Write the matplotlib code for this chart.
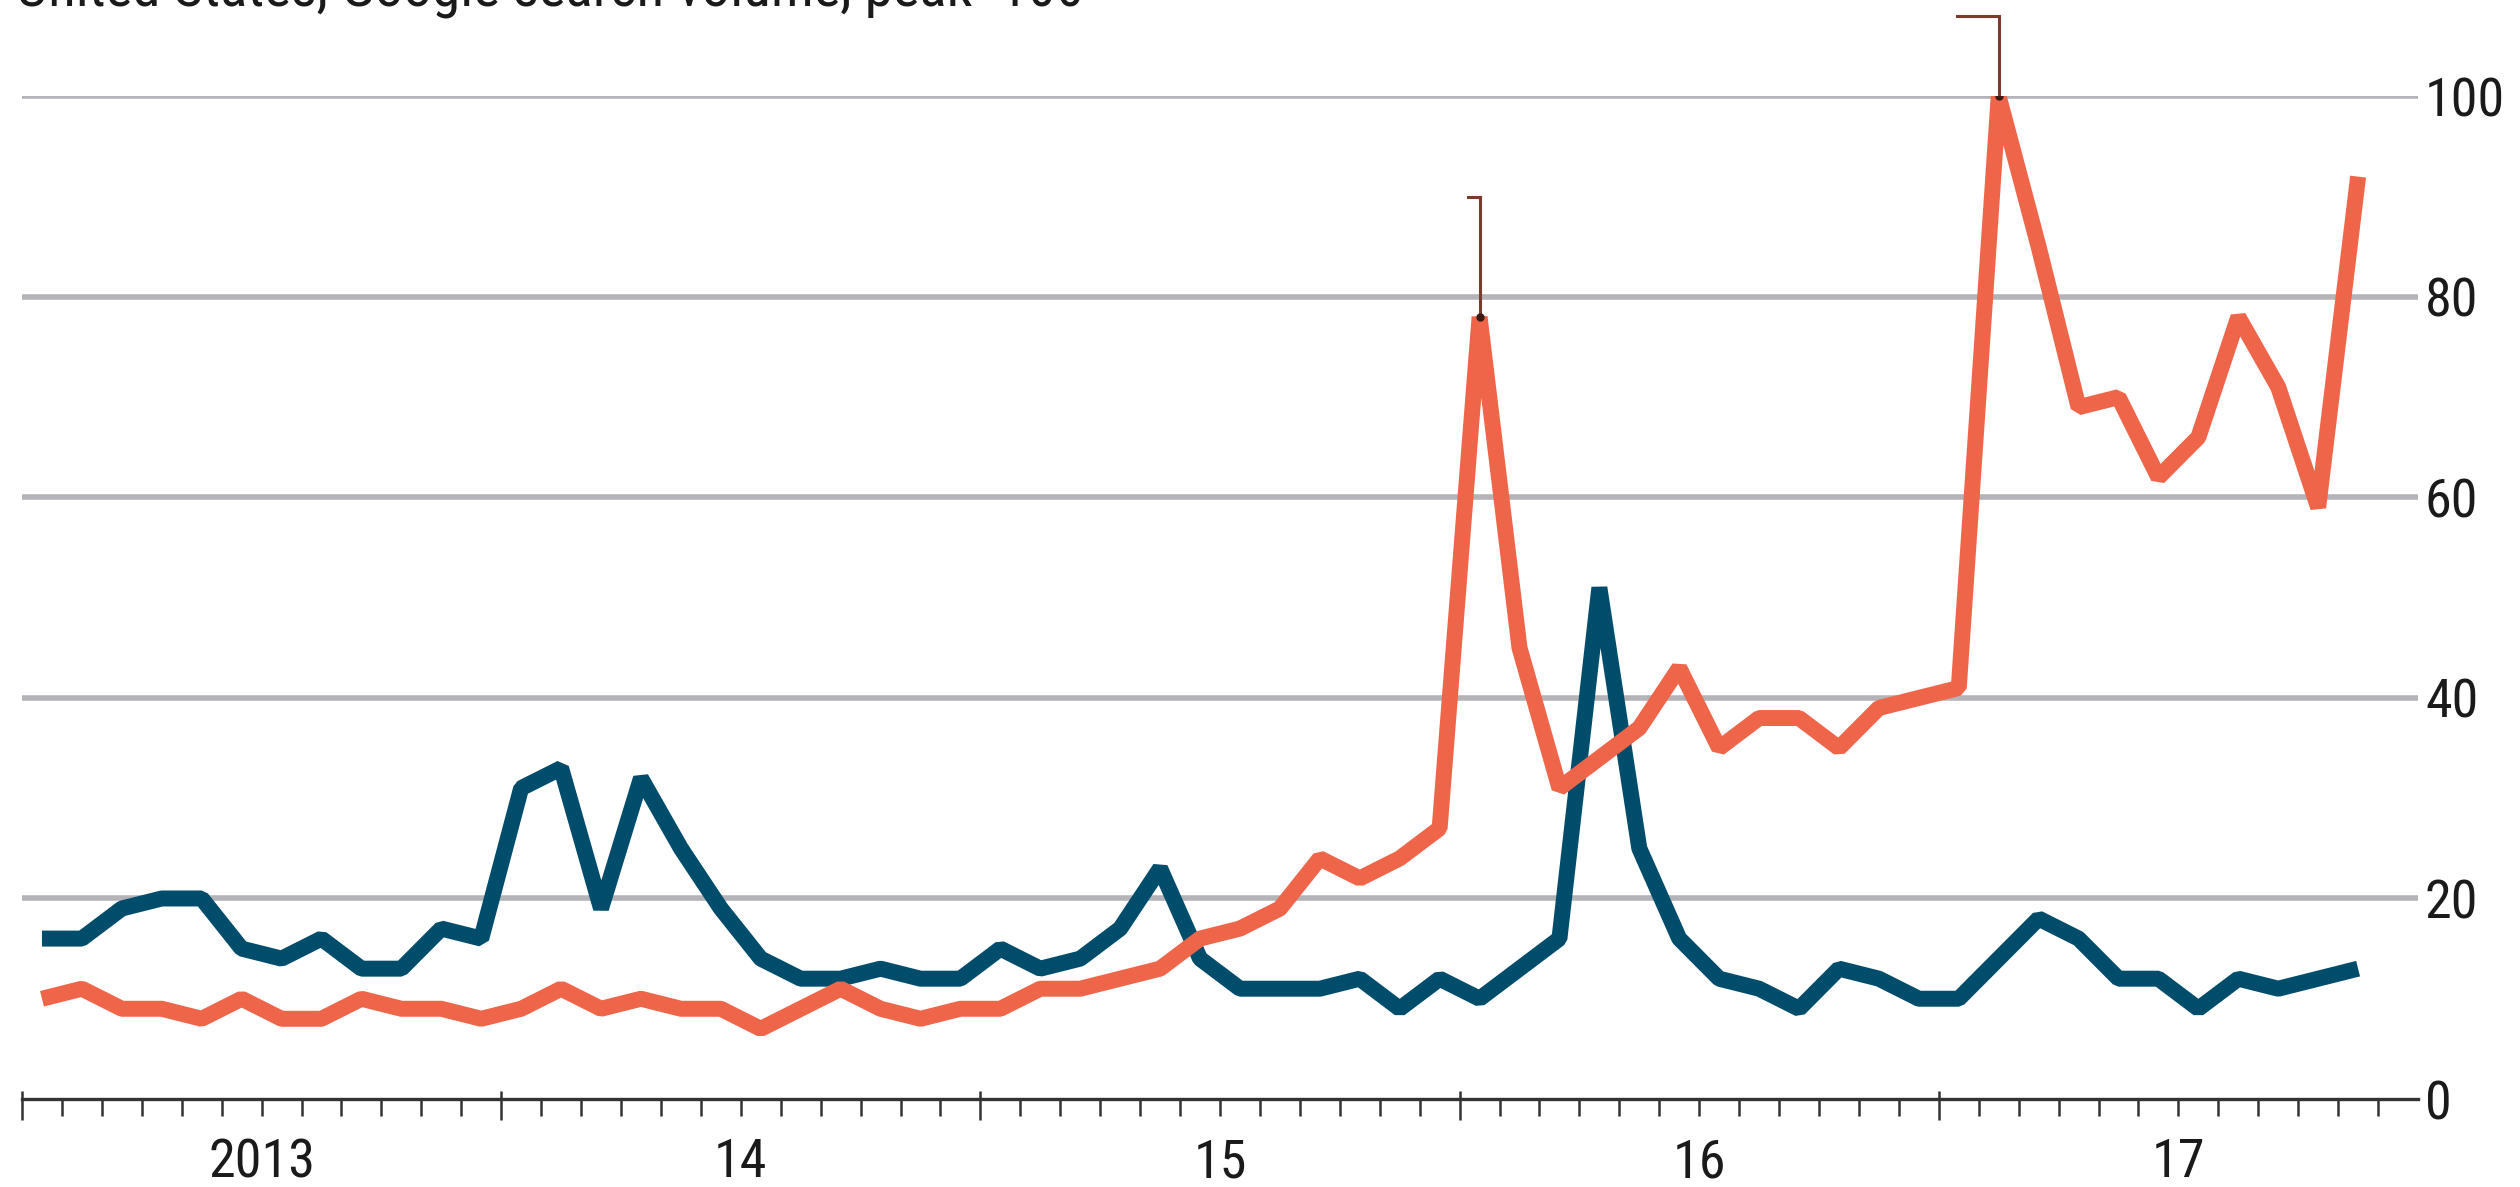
import matplotlib
matplotlib.use("Agg")
import matplotlib.pyplot as plt
import numpy as np
import logging
logging.getLogger("matplotlib.font_manager").setLevel(logging.ERROR)

# ---- data (monthly, Jan 2013 .. Nov 2017) ----
blue = [16, 16, 19, 20, 20, 15, 14, 16, 13, 13, 17, 16,
        31, 33, 19, 32, 25, 19, 14, 12, 12, 13, 12, 12,
        15, 13, 14, 17, 23, 14, 11, 11, 11, 12, 9, 12,
        10, 13, 16, 51, 25, 16, 12, 11, 9, 13, 12, 10,
        10, 14, 18, 16, 12, 12, 9, 12, 11, 12, 13]
orange = [10, 11, 9, 9, 8, 10, 8, 8, 10, 9, 9, 8,
          9, 11, 9, 10, 9, 9, 7, 9, 11, 9, 8, 9,
          9, 11, 11, 12, 13, 16, 17, 19, 24, 22, 24, 27,
          78, 45, 31, 34, 37, 43, 35, 38, 38, 35, 39, 40,
          41, 100, 85, 69, 70, 62, 66, 78, 71, 59, 92]
year_labels = ["2013", "14", "15", "16", "17"]
y_ticks = [0, 20, 40, 60, 80, 100]
subtitle = "United States, Google search volume, peak=100"
# annotated peaks: (month index, leader top value, leader tick length in months)
callouts = [(36, 90, 0.3), (49, 108, 1.05)]

ORANGE = "#EF6549"
BLUE = "#004D6B"
GRID = "#B4B4B8"
ANN = "#7A3A2C"

plt.rcParams["font.family"] = ["Roboto Condensed", "Liberation Sans Narrow",
                               "Liberation Sans", "DejaVu Sans"]

fig = plt.figure(figsize=(25.2, 11.87), dpi=100)
ax = fig.add_axes([22 / 2520, 88 / 1187, (2418 - 22) / 2520, (1099 - 96.4) / 1187])

x = np.arange(len(blue)) + 0.5
n_months = 12 * len(year_labels)

for v in y_ticks[1:]:
    ax.axhline(v, color=GRID, lw=4.0, zorder=1)

ax.plot(x, blue, color=BLUE, lw=11.5, solid_joinstyle="bevel",
        solid_capstyle="butt", zorder=3)
ax.plot(x, orange, color=ORANGE, lw=11.5, solid_joinstyle="bevel",
        solid_capstyle="butt", zorder=4)

for idx, top, tick in callouts:
    xp = x[idx]
    yp = orange[idx]
    ax.plot([xp, xp], [yp, top], color=ANN, lw=2.2, clip_on=False, zorder=5)
    ax.plot([xp - tick, xp], [top, top], color=ANN, lw=2.2, clip_on=False, zorder=5)
    ax.plot([xp], [yp], "o", color="#3a1a12", ms=5, zorder=6)

ax.set_xlim(0, n_months)
ax.set_ylim(0, 100)

for s in ["top", "left", "right"]:
    ax.spines[s].set_visible(False)
ax.spines["bottom"].set_color("#333333")
ax.spines["bottom"].set_linewidth(2.4)
ax.spines["bottom"].set_zorder(7)

ax.set_xticks(np.arange(0, n_months, 12))
ax.set_xticks(np.arange(0, n_months, 1), minor=True)
ax.tick_params(axis="x", which="major", direction="out", length=15, width=1.8,
               color="#333333", labelbottom=False)
ax.tick_params(axis="x", which="minor", direction="out", length=12, width=1.8,
               color="#333333")
sec = ax.secondary_xaxis("bottom")
sec.set_xticks(np.arange(0, n_months, 12))
sec.tick_params(direction="in", length=6, width=1.8, color="#333333", labelbottom=False)
sec.spines["bottom"].set_visible(False)

for k, lab in enumerate(year_labels):
    ax.annotate(lab, xy=(12 * k + 6, 0), xycoords=("data", "axes fraction"),
                xytext=(0, -46), textcoords="offset points",
                ha="center", va="center", fontsize=39, color="#1a1a1a")

ax.yaxis.tick_right()
ax.set_yticks(y_ticks)
ax.set_yticklabels([str(v) for v in y_ticks])
ax.tick_params(axis="y", length=0, pad=5, labelsize=39, labelcolor="#1a1a1a")

fig.text(16 / 2520, 1 - 6 / 1187, subtitle, ha="left", va="baseline",
         fontsize=41, color="#1a1a1a")

fig.savefig("out.png", dpi=100, facecolor="white")
